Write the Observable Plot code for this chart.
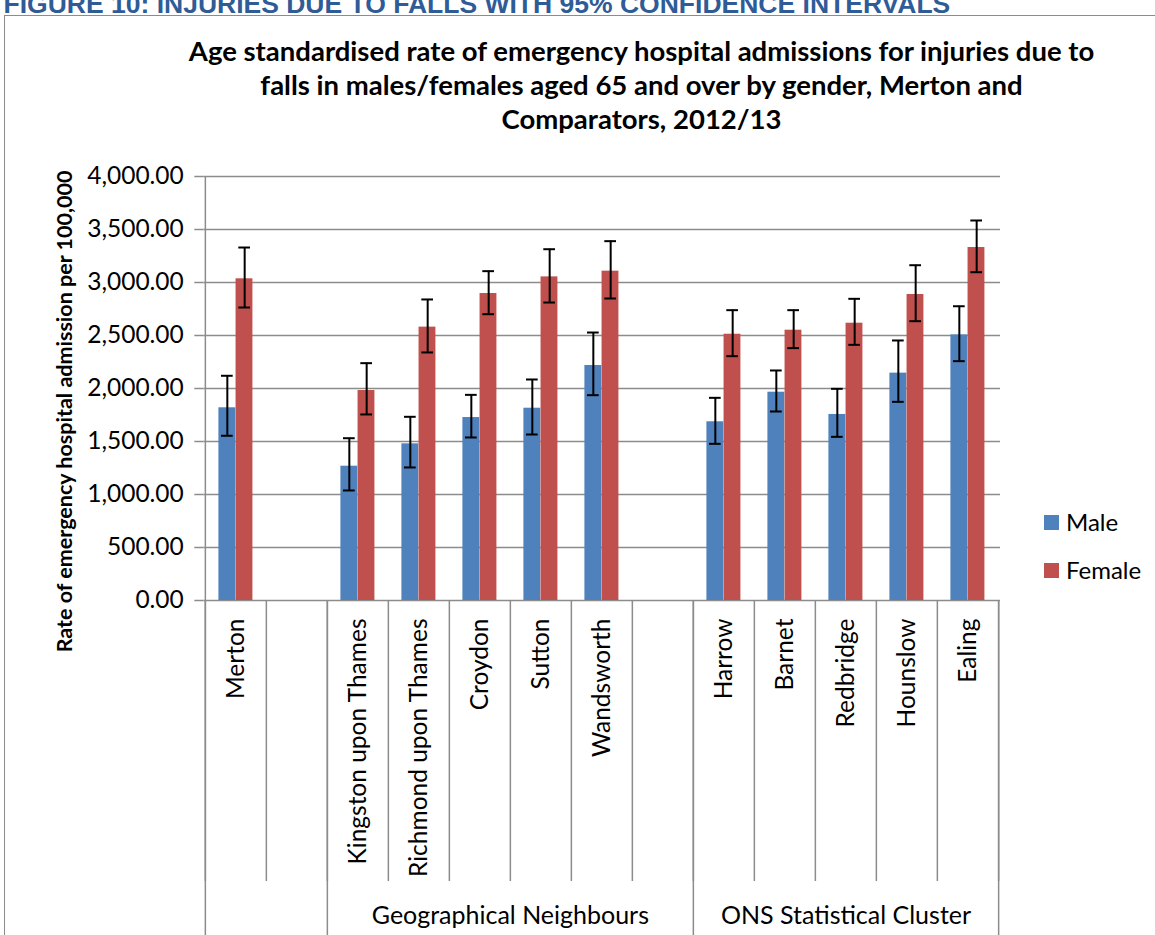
<!DOCTYPE html>
<html><head><meta charset="utf-8">
<script src="https://cdn.jsdelivr.net/npm/d3@7"></script>
<script src="https://cdn.jsdelivr.net/npm/@observablehq/plot@0.6"></script>
<style>
body{margin:0;background:#fff;}
#wrap{position:relative;width:1155px;height:935px;overflow:hidden;background:#fff;}
#chart{position:absolute;left:0;top:0;}
#border{position:absolute;left:4px;top:15px;width:1300px;height:1100px;border:1.5px solid #8c8c8c;pointer-events:none;}
.leg{position:absolute;left:1044px;font-family:Lato,sans-serif;font-size:24px;color:#000;line-height:1;}
.leg span.sw{position:absolute;left:0;width:15px;height:15px;}
.leg span.tx{position:absolute;left:22px;white-space:nowrap;}
</style></head><body>
<div id="wrap"><div id="chart"></div><div id="border"></div>
<div class="leg" style="top:515px"><span class="sw" style="background:#4F81BD"></span><span class="tx" style="top:-5px">Male</span></div>
<div class="leg" style="top:563px"><span class="sw" style="background:#C0504D"></span><span class="tx" style="top:-5px">Female</span></div>
</div>
<script>
const heading = "FIGURE 10: INJURIES DUE TO FALLS WITH 95% CONFIDENCE INTERVALS";
const titleLines = [
  "Age standardised rate of emergency hospital admissions for injuries due to",
  "falls in males/females aged 65 and over by gender, Merton and",
  "Comparators, 2012/13"
];
const yTitle = "Rate of emergency hospital admission per 100,000";
const categories = ["Merton", " ", "Kingston upon Thames", "Richmond upon Thames", "Croydon", "Sutton", "Wandsworth", "  ", "Harrow", "Barnet", "Redbridge", "Hounslow", "Ealing"];
const areas = ["Merton", "Kingston upon Thames", "Richmond upon Thames", "Croydon", "Sutton", "Wandsworth", "Harrow", "Barnet", "Redbridge", "Hounslow", "Ealing"];
const maleRate   = [1818, 1267, 1478, 1726, 1814, 2217, 1686, 1965, 1755, 2145, 2506];
const maleLower  = [1554, 1038, 1255, 1538, 1566, 1937, 1478, 1783, 1544, 1874, 2258];
const maleUpper  = [2120, 1531, 1733, 1940, 2085, 2528, 1912, 2170, 1997, 2453, 2776];
const femaleRate  = [3035, 1981, 2579, 2896, 3053, 3107, 2512, 2550, 2616, 2887, 3330];
const femaleLower = [2764, 1755, 2340, 2701, 2811, 2849, 2305, 2381, 2412, 2635, 3097];
const femaleUpper = [3330, 2239, 2840, 3107, 3314, 3390, 2739, 2739, 2846, 3163, 3585];
const groupLabels = ["Geographical Neighbours", "ONS Statistical Cluster"];
const groupStarts = ["Merton", "Kingston upon Thames", "Harrow"];
const yTicks = [0, 500, 1000, 1500, 2000, 2500, 3000, 3500, 4000];

const male = areas.map((a, i) => ({area: a, rate: maleRate[i], lo: maleLower[i], hi: maleUpper[i]}));
const female = areas.map((a, i) => ({area: a, rate: femaleRate[i], lo: femaleLower[i], hi: femaleUpper[i]}));

const W = 1155, H = 935, mL = 203.3, mR = 155, mT = 176, mB = 335;
const band = (W - mL - mR) / categories.length;
const padOut = 13.4, barW = 17.15, capW = 12;
const gridColor = "#8c8c8c";
const font = "Lato, sans-serif";
const frameCx = mL + (W - mR - mL) / 2, frameCy = mT + (H - mB - mT) / 2;

const chart = Plot.plot({
  width: W, height: H,
  marginLeft: mL, marginRight: mR, marginTop: mT, marginBottom: mB,
  style: {fontFamily: font, background: "transparent", color: "#000", overflow: "hidden"},
  x: {domain: categories, padding: 0, axis: null, label: null},
  y: {domain: [0, 4000], axis: null, label: null},
  marks: [
    Plot.gridY(yTicks, {stroke: gridColor, strokeOpacity: 1, strokeWidth: 1.5}),
    Plot.ruleX(["Merton"], {dx: -band / 2, stroke: gridColor, strokeWidth: 1.5}),
    Plot.axisY(yTicks, {anchor: "left", tickSize: 9, tickPadding: 11, stroke: gridColor, strokeWidth: 1.5,
      fill: "#000", fontSize: 24.5, label: null, tickFormat: d3.format(",.2f")}),
    // category separators
    Plot.axisX(categories, {anchor: "bottom", tickSize: 281, dx: -band / 2, text: null, label: null, stroke: gridColor, strokeWidth: 1.5}),
    Plot.axisX(["Ealing"], {anchor: "bottom", tickSize: 281, dx: band / 2, text: null, label: null, stroke: gridColor, strokeWidth: 1.5}),
    // group separators
    Plot.axisX(groupStarts, {anchor: "bottom", tickSize: 340, dx: -band / 2, text: null, label: null, stroke: gridColor, strokeWidth: 1.5}),
    Plot.axisX(["Ealing"], {anchor: "bottom", tickSize: 340, dx: band / 2, text: null, label: null, stroke: gridColor, strokeWidth: 1.5}),
    // category labels
    Plot.axisX(categories, {anchor: "bottom", tickSize: 0, tickPadding: 18, tickRotate: -90, textAnchor: "end",
      fontSize: 24.5, fill: "#000", label: null, tickFormat: d => d}),
    // bars
    Plot.barY(male, {x: "area", y: "rate", fill: "#4F81BD", insetLeft: padOut, insetRight: band - padOut - barW}),
    Plot.barY(female, {x: "area", y: "rate", fill: "#C0504D", insetLeft: padOut + barW, insetRight: band - padOut - 2 * barW}),
    // error bars
    Plot.ruleX(male, {x: "area", y1: "lo", y2: "hi", dx: -(band / 2 - padOut - barW / 2), stroke: "#000", strokeWidth: 2}),
    Plot.ruleX(female, {x: "area", y1: "lo", y2: "hi", dx: (band / 2 - padOut - barW / 2), stroke: "#000", strokeWidth: 2}),
    Plot.tickY(male, {x: "area", y: "hi", insetLeft: padOut + barW / 2 - capW / 2, insetRight: band - padOut - barW / 2 - capW / 2, stroke: "#000", strokeWidth: 2}),
    Plot.tickY(male, {x: "area", y: "lo", insetLeft: padOut + barW / 2 - capW / 2, insetRight: band - padOut - barW / 2 - capW / 2, stroke: "#000", strokeWidth: 2}),
    Plot.tickY(female, {x: "area", y: "hi", insetLeft: band - padOut - barW / 2 - capW / 2, insetRight: padOut + barW / 2 - capW / 2, stroke: "#000", strokeWidth: 2}),
    Plot.tickY(female, {x: "area", y: "lo", insetLeft: band - padOut - barW / 2 - capW / 2, insetRight: padOut + barW / 2 - capW / 2, stroke: "#000", strokeWidth: 2}),
    // group labels
    Plot.text([groupLabels[0]], {x: () => "Sutton", dx: -band / 2, frameAnchor: "bottom", dy: 315, lineAnchor: "middle", textAnchor: "middle", fontSize: 25, fill: "#000", text: d => d}),
    Plot.text([groupLabels[1]], {x: () => "Redbridge", frameAnchor: "bottom", dy: 315, lineAnchor: "middle", textAnchor: "middle", fontSize: 25, fill: "#000", text: d => d}),
    // title
    Plot.text([titleLines.join("\n")], {frameAnchor: "top", dx: 641 - frameCx, dy: 128 - mT, lineAnchor: "bottom", textAnchor: "middle",
      lineHeight: 1.236, fontSize: 27.5, fontWeight: "bold", fill: "#000", text: d => d}),
    // y-axis title
    Plot.text([yTitle], {frameAnchor: "left", dx: 65 - mL, dy: 411 - frameCy, rotate: -90, lineAnchor: "middle", textAnchor: "middle",
      fontSize: 21.5, fontWeight: "bold", fill: "#000", text: d => d}),
    // figure heading (clipped at top like the source)
    Plot.text([heading], {frameAnchor: "top-left", dx: 3 - mL, dy: 12 - mT, textAnchor: "start", lineAnchor: "bottom",
      fontSize: 26.5, fontWeight: "bold", fontFamily: "Liberation Sans", fill: "#2F5C97", text: d => d})
  ]
});
document.getElementById("chart").appendChild(chart);
</script>
</body></html>
